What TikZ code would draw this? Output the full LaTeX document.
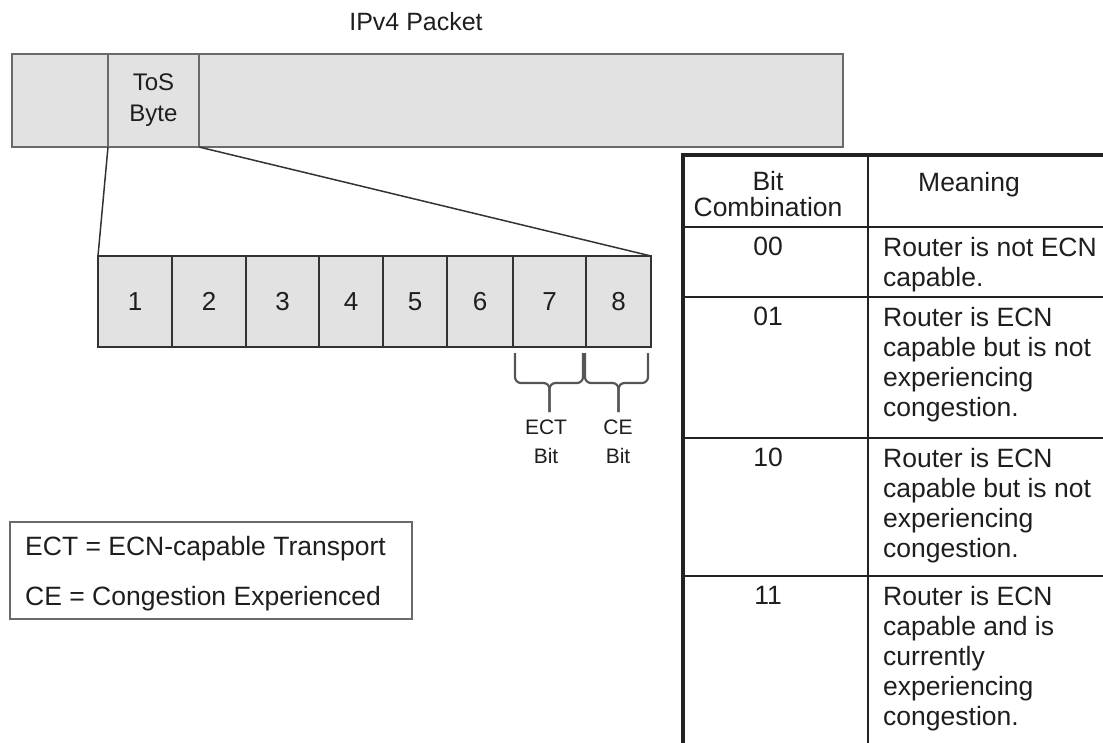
\documentclass[tikz,border=0pt]{standalone}
\usepackage{fontspec}
\setmainfont{Liberation Sans}
\usepackage{tikz}
\usetikzlibrary{positioning, calc}
\usepackage{xcolor}
\definecolor{ecnFill}{HTML}{E2E2E2}
\definecolor{ecnFrame}{HTML}{6A6A6A}
\definecolor{ecnLine}{HTML}{333333}
\definecolor{ecnRule}{HTML}{222222}
\definecolor{ecnText}{HTML}{1E1E1E}
\definecolor{ecnBrace}{HTML}{555555}

\begin{document}
\begin{tikzpicture}[
        x=1pt, y=-1pt,
        every node/.append style={text=ecnText},
        pktcell/.style={
            draw=ecnFrame,
            fill=ecnFill,
            line width=2pt,
            inner sep=0pt,
            outer sep=0pt,
            minimum height=93pt,
            align=center,
            font=\fontsize{24}{31}\selectfont
        },
        bitcell/.style={
            draw=ecnLine,
            fill=ecnFill,
            line width=2pt,
            inner sep=0pt,
            outer sep=0pt,
            minimum height=91pt,
            font=\fontsize{26}{30}\selectfont
        },
        link/.style={
            draw=ecnLine,
            line width=1.5pt
        },
        brace/.style={
            draw=ecnBrace,
            line width=2.2pt,
            rounded corners=6pt
        },
        bitlbl/.style={
            align=center,
            inner sep=0pt,
            font=\fontsize{21}{29}\selectfont
        },
        tbltext/.style={
            inner sep=0pt,
            align=left,
            font=\fontsize{26.5}{30}\selectfont
        },
        tblrule/.style={
            draw=ecnRule,
            line width=2pt
        },
        tblframe/.style={
            draw=ecnRule,
            line width=3.5pt
        }
    ]

    \clip (0,0) rectangle (1103,742);

    \node[font=\fontsize{25}{30}\selectfont] (title) at (416,22) {IPv4 Packet};

    \node[pktcell, minimum width=96pt] (pkthead) at (60,100.5) {};
    \node[pktcell, minimum width=91pt, right=0pt of pkthead] (tos) {ToS\\Byte};
    \node[pktcell, minimum width=644pt, right=0pt of tos] (pktbody) {};

    \foreach \n/\a/\b in {1/98/172, 2/172/246, 3/246/319, 4/319/383,
                          5/383/447, 6/447/513, 7/513/586, 8/586/651}
        \node[bitcell, minimum width={(\b-\a)*1pt}] (bit\n) at ({(\a+\b)/2},301.5) {\n};

    \draw[link] (tos.south west) -- (bit1.north west);
    \draw[link] (tos.south east) -- (bit8.north east);

    \draw[brace] ([xshift=2pt, yshift=-6pt]bit7.south west)
        |- ([yshift=-36pt]bit7.south) -- ([yshift=-65pt]bit7.south);
    \draw[brace] ([xshift=-3pt, yshift=-6pt]bit7.south east)
        |- ([yshift=-36pt]bit7.south) -- ([yshift=-65pt]bit7.south);
    \draw[brace] ([xshift=-1pt, yshift=-6pt]bit8.south west)
        |- ([yshift=-36pt]bit8.south) -- ([yshift=-65pt]bit8.south);
    \draw[brace] ([xshift=-3pt, yshift=-6pt]bit8.south east)
        |- ([yshift=-36pt]bit8.south) -- ([yshift=-65pt]bit8.south);

    \node[bitlbl] (ectlbl) at (546,442) {ECT\\Bit};
    \node[bitlbl] (celbl) at (618,442) {CE\\Bit};

    \node[draw=ecnFrame, line width=2pt, minimum width=402pt, minimum height=97pt,
          inner sep=0pt] (legend) at (211,570.5) {};
    \node[tbltext, anchor=base west] (ectdef) at (25,555) {ECT = ECN-capable Transport};
    \node[tbltext, anchor=base west] (cedef) at (25,605) {CE = Congestion Experienced};

    \draw[tblframe] (683,760) -- (683,155) -- (1115,155);
    \draw[tblrule] (868,155) -- (868,760);
    \foreach \y in {227,297,438,576}
        \draw[tblrule] (683,\y) -- (1115,\y);

    \node[tbltext, align=center, font=\fontsize{26.5}{26}\selectfont] (hdrbits) at (768,194) {Bit\\Combination};
    \node[tbltext] (hdrmean) at (969,185) {Meaning};

    \foreach \code/\top/\txt [count=\i] in {
            00/227/{Router is not ECN\\capable.},
            01/297/{Router is ECN\\capable but is not\\experiencing\\congestion.},
            10/438/{Router is ECN\\capable but is not\\experiencing\\congestion.},
            11/576/{Router is ECN\\capable and is\\currently\\experiencing\\congestion.}} {
        \node[tbltext, anchor=north] (code\i) at (768,{\top+10}) {\code};
        \node[tbltext, anchor=north west] (mean\i) at (883,{\top+10}) {\txt};
    }

\end{tikzpicture}
\end{document}
